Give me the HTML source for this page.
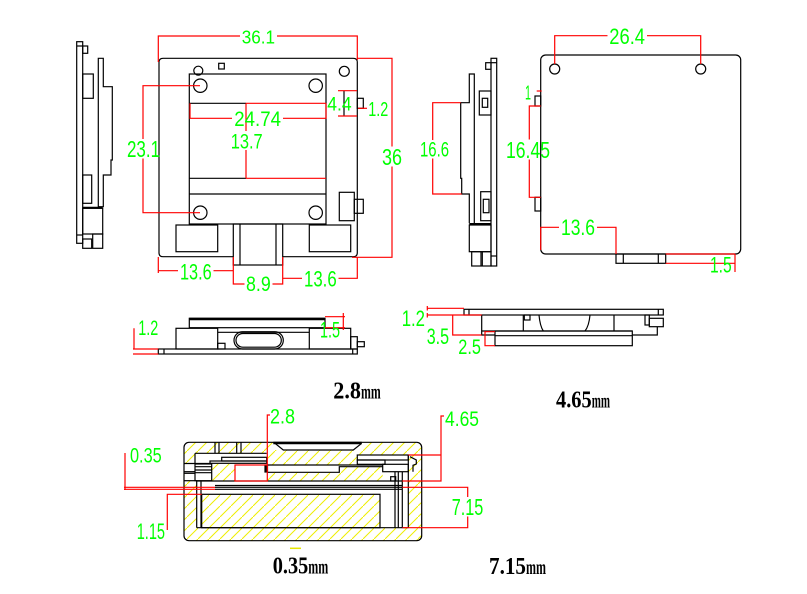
<!DOCTYPE html>
<html>
<head>
<meta charset="utf-8">
<style>
html,body{margin:0;padding:0;background:#fff;}
svg{display:block;}
.g{font-family:"Liberation Sans",sans-serif;fill:#00ff00;}
.b{font-family:"Liberation Serif",serif;font-weight:bold;fill:#000;}
</style>
</head>
<body>
<svg width="807" height="594" viewBox="0 0 807 594" xmlns="http://www.w3.org/2000/svg">
<defs>
<pattern id="h" patternUnits="userSpaceOnUse" width="11" height="11">
<path d="M-1,12 L12,-1" stroke="#eeee00" stroke-width="1" fill="none"/>
</pattern>
<clipPath id="cs"><rect x="184" y="442.3" width="237.7" height="98.4" rx="5"/></clipPath>
</defs>
<rect width="807" height="594" fill="#fff"/>

<!-- ============ CROSS SECTION HATCH ============ -->
<g clip-path="url(#cs)">
<rect x="184" y="442" width="238" height="99" fill="url(#h)"/>
<g fill="#fff">
<rect x="196.7" y="481" width="211.6" height="46.7"/>
<rect x="195" y="453.3" width="72" height="10.7"/>
<rect x="184.6" y="463" width="27.4" height="17.7"/>
<rect x="235" y="464" width="32.3" height="17"/>
<rect x="267" y="465" width="73" height="7.3"/>
<rect x="267" y="465" width="116" height="2"/>
<rect x="356.7" y="455" width="51.6" height="9.3"/>
<rect x="382.7" y="464" width="25.6" height="17"/>
<rect x="275" y="443.5" width="86" height="6.5"/>
</g>
<rect x="201.7" y="494.3" width="178.3" height="33.4" fill="url(#h)"/>
</g>
<line x1="290" y1="548.3" x2="301" y2="548.3" stroke="#e6e600" stroke-width="1.5"/>

<!-- ============ BLACK LINES ============ -->
<g fill="none" stroke="#000" stroke-width="1.2">
<!-- main top view -->
<path d="M163,58.3 H353.3 Q357.3,58.3 357.3,62.3 V252.7 Q357.3,256.7 353.3,256.7 H282.7 M233.3,256.7 H163 Q159,256.7 159,252.7 V62.3 Q159,58.3 163,58.3"/>
<rect x="189.3" y="74" width="136.7" height="150"/>
<line x1="189.3" y1="103.3" x2="246" y2="103.3"/>
<line x1="189.3" y1="178.3" x2="246" y2="178.3"/>
<line x1="189.3" y1="194" x2="326" y2="194"/>
<circle cx="198.3" cy="70.7" r="4.5"/>
<rect x="218.7" y="63.3" width="5.6" height="5.7"/>
<circle cx="344.3" cy="71.3" r="5"/>
<circle cx="200.3" cy="85.7" r="6.7"/>
<circle cx="315.7" cy="85.7" r="6.7"/>
<circle cx="200.3" cy="212.7" r="6.7"/>
<circle cx="315.7" cy="212.7" r="6.7"/>
<rect x="357.3" y="98.3" width="6" height="10"/>
<line x1="344" y1="90.7" x2="344" y2="116"/>
<rect x="339.3" y="192.3" width="15" height="28.4"/>
<rect x="354.3" y="199.3" width="9" height="14"/>
<rect x="176" y="225" width="41.7" height="26.7"/>
<rect x="309.3" y="225" width="41.4" height="26.7"/>
<rect x="233.3" y="224" width="49.4" height="41"/>
<line x1="240" y1="224" x2="240" y2="265"/>
<line x1="276" y1="224" x2="276" y2="265"/>

<!-- left side view -->
<rect x="76.7" y="41.7" width="6" height="201.6"/>
<line x1="76.7" y1="46" x2="82.7" y2="46"/>
<line x1="76.7" y1="235" x2="82.7" y2="235"/>
<rect x="82.7" y="46" width="5" height="7.3"/>
<rect x="82.7" y="74" width="10.6" height="24.3"/>
<rect x="82.7" y="175" width="9" height="28.3"/>
<path d="M98.3,206.7 V58.3 H103.3 V86.7 H112.3 V160 H111 V175 H103.3 V206.7 Z"/>
<line x1="82.7" y1="207.7" x2="102.7" y2="207.7" stroke-width="2"/>
<rect x="82.7" y="208.3" width="20" height="25.7"/>
<rect x="82.7" y="239" width="9" height="9.3"/>
<rect x="92.7" y="234" width="10" height="14.3"/>

<!-- middle side view -->
<rect x="491" y="58.3" width="5.7" height="207.7"/>
<line x1="491" y1="62.7" x2="496.7" y2="62.7"/>
<line x1="491" y1="256" x2="496.7" y2="256"/>
<rect x="485.7" y="62.7" width="5.3" height="6.6"/>
<path d="M469.3,223.3 V194 H461.7 V178.3 H460.7 V102.7 H469.3 V74 H474.3 V223.3"/>
<line x1="469.3" y1="224" x2="491" y2="224" stroke-width="2"/>
<rect x="469.3" y="225" width="21.7" height="26.7"/>
<rect x="471.7" y="251.7" width="19.3" height="14.3"/>
<line x1="481" y1="251.7" x2="481" y2="266"/>
<line x1="482.3" y1="251.7" x2="482.3" y2="266"/>
<rect x="479.3" y="91" width="11.7" height="24"/>
<rect x="482.3" y="98.3" width="5.4" height="9"/>
<rect x="480.7" y="191.7" width="10.3" height="29"/>
<rect x="483.3" y="199.3" width="5.7" height="13.4"/>

<!-- right view -->
<rect x="540.7" y="55" width="200" height="199" rx="5"/>
<circle cx="554.7" cy="69" r="5"/>
<circle cx="700.7" cy="69" r="5"/>
<rect x="535" y="96" width="5.7" height="10"/>
<rect x="535" y="197.3" width="5.7" height="13.7"/>
<rect x="616" y="254" width="49.7" height="9.3"/>
<line x1="623.3" y1="254" x2="623.3" y2="263.3"/>
<line x1="658.3" y1="254" x2="658.3" y2="263.3"/>

<!-- bottom-left side view -->
<rect x="189.3" y="318.3" width="135.7" height="9.4"/>
<line x1="189.3" y1="319" x2="325" y2="319" stroke-width="2.5"/>
<rect x="176" y="328.3" width="41.7" height="20.7"/>
<rect x="309.3" y="328.3" width="41.4" height="20.7"/>
<line x1="217.7" y1="332.3" x2="309.3" y2="332.3"/>
<rect x="234" y="331.7" width="49.3" height="17.3" rx="8.6"/>
<rect x="236" y="333.5" width="45.3" height="13.7" rx="6.8"/>
<rect x="217.7" y="343.3" width="7.3" height="5.7"/>
<rect x="158.3" y="349" width="199" height="5"/>
<line x1="164" y1="349" x2="164" y2="354"/>
<line x1="352.7" y1="349" x2="352.7" y2="354"/>
<rect x="350.7" y="336.7" width="6.6" height="12.3"/>
<rect x="357.3" y="341.7" width="7" height="5"/>

<!-- bottom-right side view -->
<rect x="464" y="309.3" width="199.3" height="5.7"/>
<line x1="469" y1="309.3" x2="469" y2="315"/>
<line x1="658.3" y1="309.3" x2="658.3" y2="315"/>
<path d="M481.7,315 V335 H495"/>
<line x1="481.7" y1="331" x2="632.3" y2="331"/>
<rect x="495" y="331" width="137.3" height="14.7"/>
<line x1="495" y1="335.7" x2="632.3" y2="335.7"/>
<line x1="523.3" y1="315" x2="523.3" y2="331"/>
<line x1="614" y1="315" x2="614" y2="331"/>
<rect x="524.3" y="315" width="5.7" height="5"/>
<path d="M539,315 Q540,326 543.3,331"/>
<path d="M590,315 Q589,326 585,331"/>
<path d="M632.3,335 H657.3 V326.7"/>
<rect x="645" y="315" width="4.3" height="10"/>
<rect x="649.3" y="318.3" width="14" height="8.4"/>

<!-- cross section -->
<rect x="184" y="442.3" width="237.7" height="98.4" rx="5"/>
<line x1="273.3" y1="443" x2="361.7" y2="443" stroke-width="2.5"/>
<path d="M275,443.3 L283.3,450 H353.3 L361.7,443.3"/>
<line x1="215" y1="442.3" x2="215" y2="453.3"/>
<line x1="219" y1="442.3" x2="219" y2="453.3"/>
<line x1="236.7" y1="442.3" x2="236.7" y2="453.3"/>
<line x1="241" y1="442.3" x2="241" y2="453.3"/>
<line x1="195" y1="453.3" x2="266.7" y2="453.3"/>
<line x1="195" y1="453.3" x2="195" y2="463.3"/>
<rect x="221.7" y="457.3" width="45" height="3.7"/>
<rect x="210" y="461" width="56.7" height="2.3"/>
<line x1="184" y1="463.5" x2="210" y2="463.5"/>
<rect x="195" y="464" width="16.7" height="16.7"/>
<line x1="195" y1="466.7" x2="211.7" y2="466.7"/>
<line x1="195" y1="470" x2="211.7" y2="470"/>
<line x1="195" y1="472.7" x2="211.7" y2="472.7"/>
<line x1="184" y1="471.7" x2="195" y2="471.7"/>
<line x1="184" y1="473.3" x2="195" y2="473.3"/>
<line x1="184" y1="480.7" x2="196.7" y2="480.7"/>
<rect x="265" y="465" width="2.5" height="7" fill="#000"/>
<line x1="267" y1="465" x2="383" y2="465"/>
<path d="M267,472.3 H339.3 V466.7 H383"/>
<rect x="357.3" y="455" width="51" height="5"/>
<rect x="357.3" y="460" width="27.7" height="4.3"/>
<rect x="382.7" y="464.3" width="25.6" height="7.4"/>
<rect x="390.7" y="476.7" width="5" height="4.3"/>
<path d="M410,456.7 L416.3,460 V464 L413,465.3 V471.7"/>
<line x1="408.3" y1="455" x2="408.3" y2="527.7"/>
<line x1="395" y1="471.7" x2="395" y2="527.7"/>
<line x1="398.3" y1="471.7" x2="398.3" y2="527.7"/>
<line x1="402.3" y1="471.7" x2="402.3" y2="527.7"/>
<line x1="196.7" y1="481" x2="402.3" y2="481"/>
<line x1="215" y1="485.5" x2="402.3" y2="485.5"/>
<line x1="215" y1="487.3" x2="402.3" y2="487.3"/>
<line x1="215" y1="489.3" x2="402.3" y2="489.3"/>
<line x1="196.7" y1="481" x2="196.7" y2="527.7"/>
<line x1="201" y1="481" x2="201" y2="527.7"/>
<rect x="201.7" y="494.3" width="178.3" height="33.4"/>
<line x1="196.7" y1="527.7" x2="408.3" y2="527.7"/>
</g>

<!-- ============ RED DIMENSION LINES ============ -->
<g fill="none" stroke="#ff0000" stroke-width="1.2">
<!-- 36.1 -->
<path d="M158.3,62 V36 H240 M277,36 H357.3 V60"/>
<!-- 24.74 -->
<path d="M190,103.3 V118.3 H232 M283,118.3 H326 V103.3"/>
<line x1="246" y1="103.3" x2="326" y2="103.3"/>
<line x1="246" y1="178.3" x2="326" y2="178.3"/>
<!-- 13.7 -->
<path d="M246,103.3 V131 M246,150 V178.3"/>
<!-- 23.1 -->
<path d="M200,85.7 H143 V139 M143,158.5 V212.7 H200"/>
<!-- 4.4 / 1.2 -->
<line x1="338" y1="90.7" x2="357" y2="90.7"/>
<line x1="338" y1="116" x2="357" y2="116"/>
<line x1="358" y1="108.3" x2="367" y2="108.3"/>
<!-- 36 -->
<path d="M357,58.3 H392 V146.5 M392,166.5 V257.3 H352"/>
<!-- 13.6 left -->
<path d="M158.3,257 V273 M158.3,270.7 H178 M213.5,270.7 H233.3"/>
<!-- 8.9 -->
<path d="M233.3,257 V284 H244.5 M272.5,284 H282.7 V257"/>
<!-- 13.6 right -->
<path d="M282.7,278.3 H302 M338.5,278.3 H357.3 V257"/>
<!-- 16.6 -->
<path d="M460.7,102.7 H432.7 V140 M432.7,158.5 V194 H461.7"/>
<!-- 26.4 -->
<path d="M554.7,64 V35.7 H607.5 M647,35.7 H700.7 V64"/>
<!-- 1 / 16.45 -->
<line x1="536.7" y1="91" x2="541.7" y2="91"/>
<path d="M540.7,106 H529.3 V139.5 M529.3,159.5 V197.3 H540.7"/>
<!-- 13.6 right view -->
<path d="M540.7,250 V227.3 H559 M597,227.3 H616 V254"/>
<!-- 1.5 right view -->
<path d="M665.7,254 H735 M665.7,263.3 H735 M735,254 V272"/>
<!-- bottom-left side 1.2 -->
<path d="M134,328.3 V349 M133,349 H158.3 M133,354 H158.3"/>
<!-- 1.5 -->
<path d="M325,316.7 H345 M325,327.7 H345 M343.3,313 V330"/>
<!-- bottom-right 1.2 / 3.5 / 2.5 -->
<path d="M426.7,308.3 H464 M426.7,315 H481.7 M427.3,306 V310.5 M427.3,313 V317.5"/>
<path d="M452.7,315 V335 H481.7"/>
<path d="M495,331.7 H485 V345.7 H495"/>
<!-- cross section: 2.8 -->
<rect x="235" y="465" width="32.3" height="16"/>
<path d="M267.3,465 V415 H270"/>
<!-- 0.35 -->
<path d="M125,453 V490 M124,487.3 H215 M124,489.3 H215"/>
<!-- 1.15 -->
<path d="M201.7,494.3 H167.3 V530"/>
<!-- 4.65 -->
<path d="M408.3,455 H441 V481 H402.3 M441,455 V416 H444"/>
<!-- 7.15 -->
<path d="M402.3,487.3 H467.7 V497 M467.7,516.5 V527.7 H402.3"/>
</g>

<!-- ============ GREEN DIMENSION TEXT ============ -->
<g class="g">
<text x="241.7" y="43.3" font-size="18.8" textLength="33.3" lengthAdjust="spacingAndGlyphs">36.1</text>
<text x="234.3" y="126" font-size="21.5" textLength="46.7" lengthAdjust="spacingAndGlyphs">24.74</text>
<text x="230.7" y="148.3" font-size="21" textLength="32" lengthAdjust="spacingAndGlyphs">13.7</text>
<text x="327.3" y="110.7" font-size="19" textLength="24.4" lengthAdjust="spacingAndGlyphs">4.4</text>
<text x="368.3" y="116" font-size="20" textLength="20" lengthAdjust="spacingAndGlyphs">1.2</text>
<text x="127" y="157" font-size="23" textLength="33" lengthAdjust="spacingAndGlyphs">23.1</text>
<text x="382" y="165" font-size="23" textLength="20" lengthAdjust="spacingAndGlyphs">36</text>
<text x="180" y="279.3" font-size="22" textLength="31.7" lengthAdjust="spacingAndGlyphs">13.6</text>
<text x="246" y="291" font-size="21" textLength="24.7" lengthAdjust="spacingAndGlyphs">8.9</text>
<text x="304" y="286.7" font-size="22" textLength="32.7" lengthAdjust="spacingAndGlyphs">13.6</text>
<text x="420" y="156.7" font-size="21" textLength="29" lengthAdjust="spacingAndGlyphs">16.6</text>
<text x="609.3" y="44" font-size="22" textLength="35.7" lengthAdjust="spacingAndGlyphs">26.4</text>
<text x="525" y="99.3" font-size="20" textLength="6" lengthAdjust="spacingAndGlyphs">1</text>
<text x="506" y="158" font-size="23" textLength="44" lengthAdjust="spacingAndGlyphs">16.45</text>
<text x="561" y="235" font-size="22" textLength="34" lengthAdjust="spacingAndGlyphs">13.6</text>
<text x="710" y="272.7" font-size="22" textLength="21.7" lengthAdjust="spacingAndGlyphs">1.5</text>
<text x="138.3" y="335" font-size="21" textLength="20" lengthAdjust="spacingAndGlyphs">1.2</text>
<text x="320" y="337.3" font-size="22" textLength="20" lengthAdjust="spacingAndGlyphs">1.5</text>
<text x="401.7" y="326" font-size="22" textLength="23.3" lengthAdjust="spacingAndGlyphs">1.2</text>
<text x="426.7" y="344" font-size="22" textLength="22.3" lengthAdjust="spacingAndGlyphs">3.5</text>
<text x="458.3" y="354" font-size="21" textLength="22.7" lengthAdjust="spacingAndGlyphs">2.5</text>
<text x="270" y="423.3" font-size="21" textLength="25" lengthAdjust="spacingAndGlyphs">2.8</text>
<text x="130" y="462.7" font-size="21.5" textLength="31.7" lengthAdjust="spacingAndGlyphs">0.35</text>
<text x="136.7" y="539" font-size="22" textLength="28.3" lengthAdjust="spacingAndGlyphs">1.15</text>
<text x="445" y="426" font-size="21.5" textLength="34" lengthAdjust="spacingAndGlyphs">4.65</text>
<text x="451.7" y="515" font-size="23" textLength="31.6" lengthAdjust="spacingAndGlyphs">7.15</text>
</g>

<!-- ============ BLACK LABELS ============ -->
<g class="b">
<text x="333.3" y="398.3" font-size="24" textLength="27.7" lengthAdjust="spacingAndGlyphs">2.8</text>
<text x="361" y="398.3" font-size="20" textLength="19.7" lengthAdjust="spacingAndGlyphs">mm</text>
<text x="556" y="407.3" font-size="24" textLength="35.7" lengthAdjust="spacingAndGlyphs">4.65</text>
<text x="591.7" y="407.3" font-size="20" textLength="18.3" lengthAdjust="spacingAndGlyphs">mm</text>
<text x="272.7" y="573.3" font-size="24" textLength="35.6" lengthAdjust="spacingAndGlyphs">0.35</text>
<text x="308.3" y="573.3" font-size="20" textLength="20" lengthAdjust="spacingAndGlyphs">mm</text>
<text x="489" y="574" font-size="24" textLength="37" lengthAdjust="spacingAndGlyphs">7.15</text>
<text x="526" y="574" font-size="20" textLength="20" lengthAdjust="spacingAndGlyphs">mm</text>
</g>
</svg>
</body>
</html>
